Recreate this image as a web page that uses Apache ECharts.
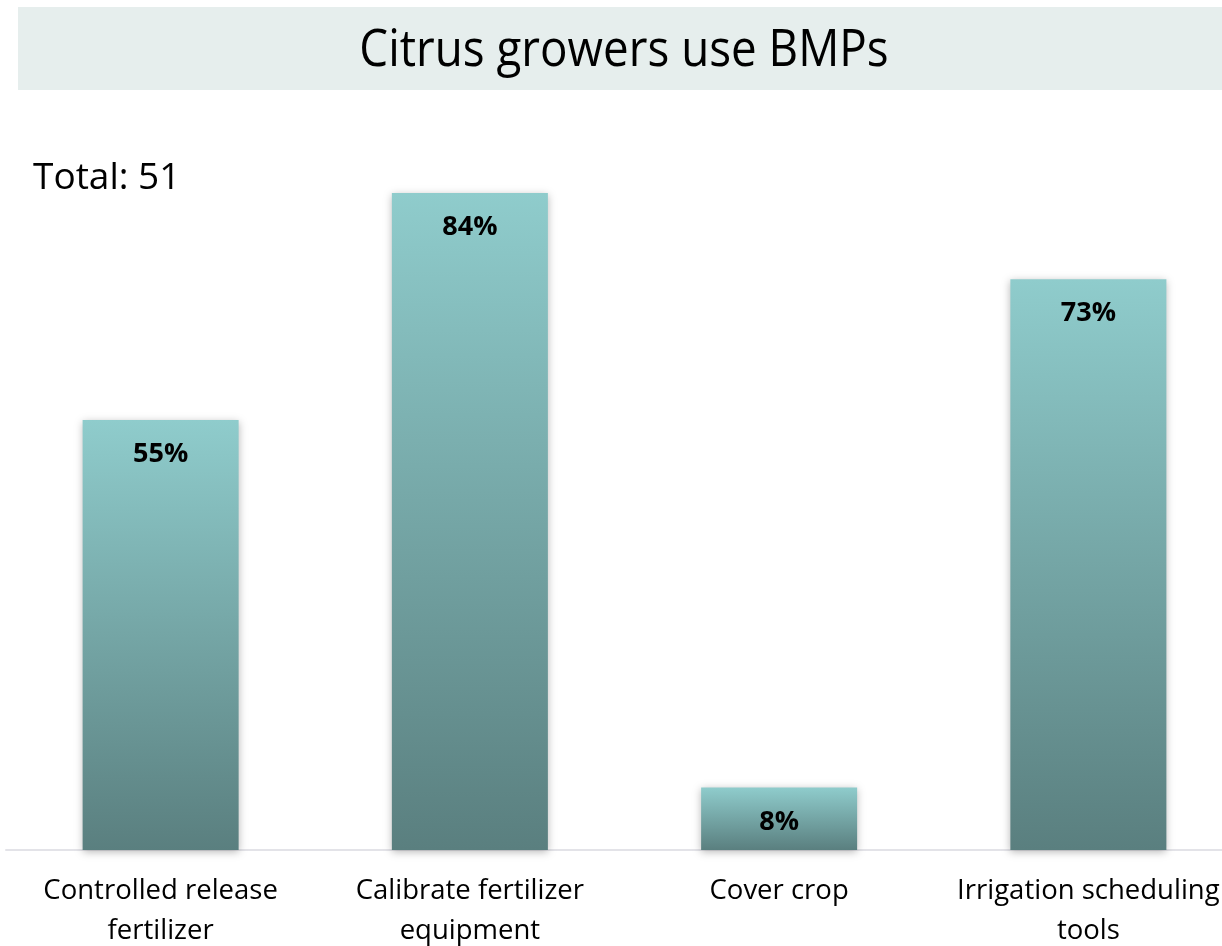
<!DOCTYPE html>
<html>
<head>
<meta charset="utf-8">
<script src="https://cdn.jsdelivr.net/npm/echarts@6/dist/echarts.min.js"></script>
<style>
  html, body { margin: 0; padding: 0; background: #ffffff; }
  #chart { width: 1222px; height: 946px; }
</style>
</head>
<body>
<div id="chart"></div>
<script>
// BMP adoption among citrus growers (share of respondents, %)
const categories = [
  'Controlled release\nfertilizer',
  'Calibrate fertilizer\nequipment',
  'Cover crop',
  'Irrigation scheduling\ntools'
];
const shares = [55, 84, 8, 73];
const titleText = 'Citrus growers use BMPs';
const totalText = 'Total: 51';

const FONT = '"Open Sans", "Noto Sans", sans-serif';

const chart = echarts.init(document.getElementById('chart'), null, { renderer: 'canvas' });

chart.setOption({
  backgroundColor: '#ffffff',
  animation: false,
  graphic: [
    {
      type: 'rect',
      left: 18, top: 7,
      shape: { width: 1210, height: 83 },
      style: { fill: '#e6eeed' },
      silent: true
    },
    {
      // condensed title text, centred in the band
      type: 'text',
      x: 624, y: 51,
      scaleX: 0.88,
      style: {
        text: titleText,
        font: '400 52px ' + FONT,
        fill: '#000000',
        textAlign: 'center',
        textVerticalAlign: 'middle'
      }
    },
    {
      type: 'text',
      x: 33, y: 178,
      style: {
        text: totalText,
        font: '400 37px ' + FONT,
        fill: '#000000',
        textAlign: 'left',
        textVerticalAlign: 'middle'
      }
    }
  ],
  grid: {
    left: 6, top: 68, width: 1237, height: 782,
    containLabel: false,
    outerBoundsMode: 'none'
  },
  xAxis: {
    type: 'category',
    data: categories,
    axisTick: { show: false },
    axisLine: { show: true, lineStyle: { color: '#e3e3e8', width: 2 } },
    axisLabel: {
      interval: 0,
      margin: 21,
      color: '#000000',
      fontFamily: FONT,
      fontSize: 27.5,
      lineHeight: 40
    }
  },
  yAxis: {
    type: 'value',
    min: 0, max: 100,
    show: false,
    splitLine: { show: false }
  },
  series: [{
    type: 'bar',
    data: shares,
    barWidth: 156,
    itemStyle: {
      color: {
        type: 'linear', x: 0, y: 0, x2: 0, y2: 1,
        colorStops: [
          { offset: 0, color: '#8fcccc' },
          { offset: 1, color: '#5a7f7f' }
        ]
      },
      shadowBlur: 8,
      shadowColor: 'rgba(0,0,0,0.28)',
      shadowOffsetX: 0,
      shadowOffsetY: 2
    },
    label: {
      show: true,
      position: 'insideTop',
      distance: 21,
      formatter: '{c}%',
      color: '#000000',
      fontFamily: FONT,
      fontWeight: 'bold',
      fontSize: 27
    }
  }]
});
</script>
</body>
</html>
